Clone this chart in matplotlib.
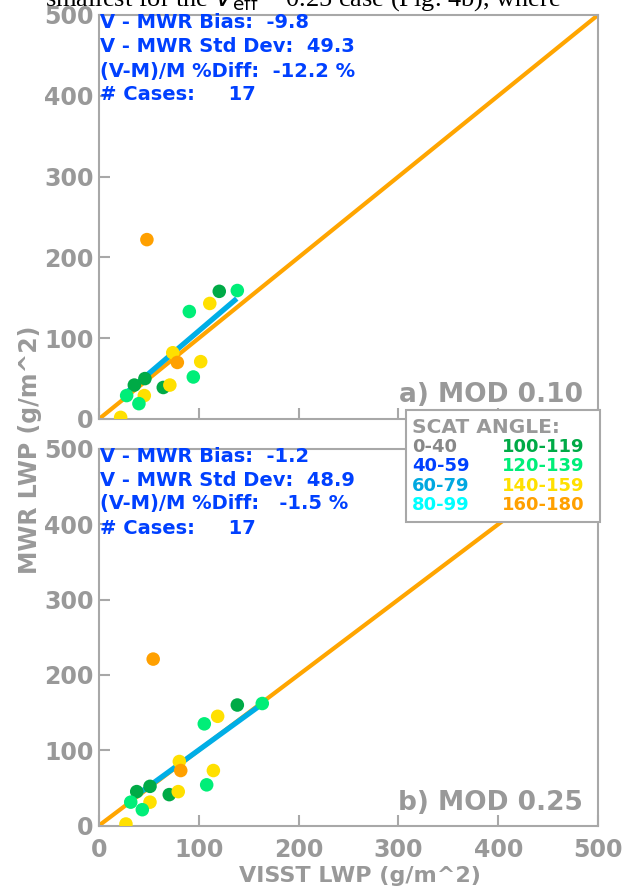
import matplotlib
matplotlib.use("Agg")
import matplotlib.pyplot as plt
from matplotlib.patches import Rectangle

# scattering angle classes and their colours
angle_labels = ["0-40", "40-59", "60-79", "80-99", "100-119", "120-139", "140-159", "160-180"]
angle_colors = ["#888888", "#0040ff", "#00a8e0", "#00ffff", "#00aa46", "#00ee78", "#ffe000", "#ffa000"]

# a) MOD 0.10
visst_a = [48, 120.5, 138.6, 111, 90.5, 73.9, 78.5, 101.9, 94.5, 46, 35.4, 64.4, 71, 27.7, 45.4, 40, 21.7]
mwr_a = [222, 158, 159, 143, 133, 82, 70, 71, 52, 50, 42, 39, 42, 29, 29, 19, 2]
cls_a = [7, 4, 5, 6, 5, 6, 7, 6, 5, 4, 4, 4, 6, 5, 6, 5, 6]
fit_x_a = [24, 138]
fit_y_a = [29, 149]

# b) MOD 0.25
visst_b = [54.3, 138.6, 163.6, 118.9, 105.5, 80.5, 81.9, 114.6, 107.9, 51.1, 37.8, 70.4, 79.4, 31.8, 51.1, 43.4, 27]
mwr_b = [221, 160, 162, 145, 135, 85, 73, 73, 54, 52, 45, 41, 45, 31, 31, 21, 2]
cls_b = [7, 4, 5, 6, 5, 6, 7, 6, 5, 4, 4, 4, 6, 5, 6, 5, 6]
fit_x_b = [27, 161]
fit_y_b = [30, 159]

panel_names = ["a) MOD 0.10", "b) MOD 0.25"]
bias = [-9.8, -1.2]
std_dev = [49.3, 48.9]
pct_diff = [-12.2, -1.5]
n_cases = [17, 17]
ticks = [0, 100, 200, 300, 400, 500]

W, H = 625, 886
GRAY = "#999999"
LGRAY = "#a8a8a8"
BLUE = "#0040ff"
BOLD = dict(family="DejaVu Sans", weight="bold")


def fx(x):
    return x / W


def fy(y):
    return 1 - y / H


fig = plt.figure(figsize=(6.25, 8.86), dpi=100)
ax_a = fig.add_axes([fx(99), fy(419), fx(598) - fx(99), fy(15) - fy(419)])
ax_b = fig.add_axes([fx(99), fy(825.5), fx(598) - fx(99), fy(449) - fy(825.5)])

panels = [
    (ax_a, visst_a, mwr_a, cls_a, fit_x_a, fit_y_a),
    (ax_b, visst_b, mwr_b, cls_b, fit_x_b, fit_y_b),
]
text_tops = [23, 456]

for i, (ax, xs, ys, cl, fxs, fys) in enumerate(panels):
    ax.plot([0, 500], [0, 500], color="#ffa500", lw=3, zorder=2)
    ax.plot(fxs, fys, color="#00aee6", lw=3.8, zorder=3, solid_capstyle="butt")
    ax.scatter(xs, ys, c=[angle_colors[k] for k in cl], s=95, zorder=4, linewidths=0)
    ax.set_xlim(0, 500)
    ax.set_ylim(0, 500)
    ax.set_xticks(ticks)
    ax.set_yticks(ticks)
    for sp in ax.spines.values():
        sp.set_color(LGRAY)
        sp.set_linewidth(1.5)
    ax.tick_params(direction="in", length=8, width=1.5, color=LGRAY,
                   labelcolor=GRAY, labelsize=17, pad=4)
    ax.tick_params(axis="x", pad=9)
    for lab in ax.get_xticklabels() + ax.get_yticklabels():
        lab.set_fontfamily("DejaVu Sans")
        lab.set_fontweight("bold")
    if i == 0:
        ax.tick_params(axis="x", labelbottom=False)
    ax.text(0.97, 0.06, panel_names[i], transform=ax.transAxes, ha="right", va="center",
            color=GRAY, fontsize=19, **BOLD)
    lines = [
        f"V - MWR Bias:  {bias[i]:.1f}",
        f"V - MWR Std Dev:  {std_dev[i]:.1f}",
        f"(V-M)/M %Diff: {pct_diff[i]:6.1f} %",
        f"# Cases:     {n_cases[i]}",
    ]
    for j, s in enumerate(lines):
        fig.text(fx(100), fy(text_tops[i] + 24 * j), s, color=BLUE, fontsize=14,
                 ha="left", va="center", **BOLD)

fig.text(fx(30), fy(450), "MWR LWP (g/m^2)", rotation=90, ha="center", va="center",
         color=GRAY, fontsize=17, **BOLD)
fig.text(fx(360), fy(876), "VISST LWP (g/m^2)", ha="center", va="center",
         color=GRAY, fontsize=16, **BOLD)

# legend box
fig.patches.append(Rectangle((fx(406), fy(522)), fx(600) - fx(406), fy(410) - fy(522),
                             transform=fig.transFigure, facecolor="white",
                             edgecolor=LGRAY, lw=1.5, zorder=5))
fig.text(fx(412), fy(428), "SCAT ANGLE:", color=GRAY, fontsize=14.5, ha="left",
         va="center", zorder=6, **BOLD)
for k, (lab, col) in enumerate(zip(angle_labels, angle_colors)):
    col_x = 412 if k < 4 else 502
    row_y = 447 + 19.3 * (k % 4)
    fig.text(fx(col_x), fy(row_y), lab, color=col, fontsize=13, ha="left",
             va="center", zorder=6, **BOLD)

# cut-off line of the surrounding page text
fig.text(fx(45), fy(6), r"smallest for the $V_{\rm eff}$ = 0.25 case (Fig. 4b), where",
         family="Liberation Serif", fontsize=19, color="black", ha="left", va="baseline")

fig.savefig("out.png", dpi=100)
